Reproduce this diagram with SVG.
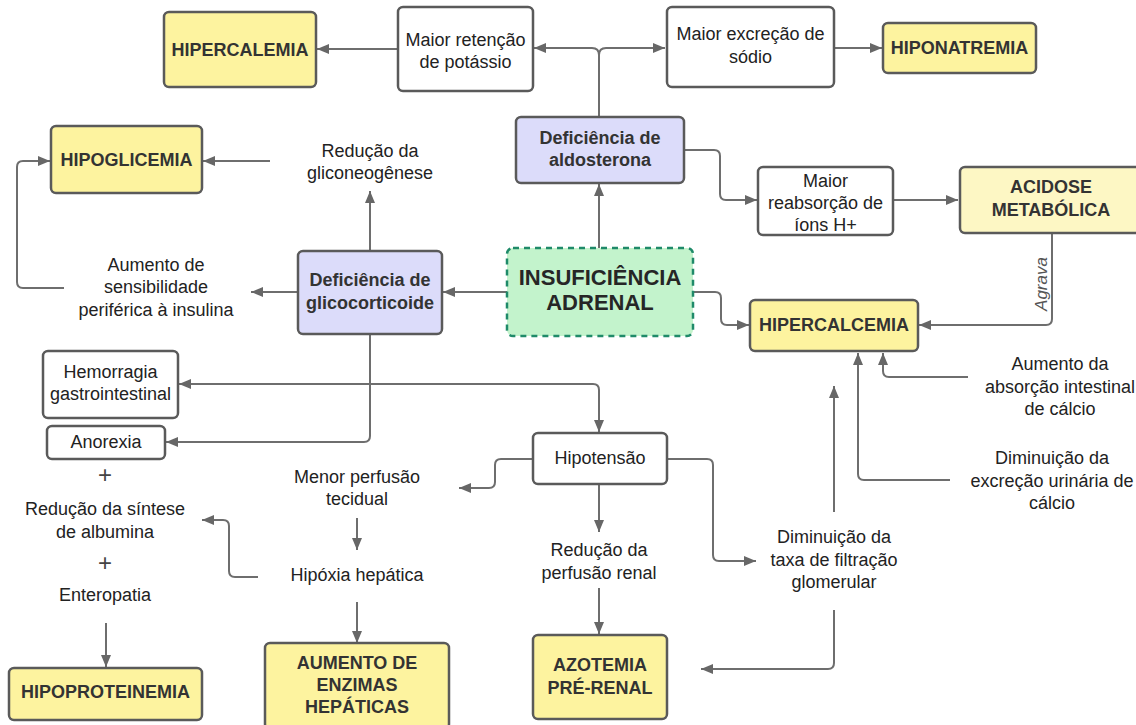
<svg xmlns="http://www.w3.org/2000/svg" width="1136" height="725" viewBox="0 0 1136 725">
<defs>
<marker id="ah" viewBox="0 0 12 10" refX="12" refY="5" markerWidth="12" markerHeight="10" markerUnits="userSpaceOnUse" orient="auto"><path d="M0,0 L12,5 L0,10 z" fill="#676767"/></marker>
<style>
.box{stroke:#5a5a5a;stroke-width:2.5}
.w{fill:#ffffff}
.y{fill:#fdf39f}
.y2{fill:#fdf7c4}
.p{fill:#dcdcfa}
.g{fill:#c3f3cc;stroke:#1f8a69;stroke-width:2.5;stroke-dasharray:6 5}
text{font-family:"Liberation Sans",Arial,Helvetica,sans-serif;font-size:18px;fill:#222222;text-anchor:middle}
.b{font-weight:bold;fill:#333333}
.big{font-size:22px;font-weight:bold;fill:#262626}
.it{font-style:italic;fill:#555555;font-size:17px}
.plus{font-size:24px;fill:#444444}
#connectors path{fill:none;stroke:#6e6e6e;stroke-width:2}
</style>
</defs>
<rect width="1136" height="725" fill="#ffffff"/>

<g id="connectors">
<path d="M599,117 V55 Q599,48 606,48 H665" marker-end="url(#ah)"/>
<path d="M599,55 Q599,48 592,48 H534" marker-end="url(#ah)"/>
<path d="M398,49 H317" marker-end="url(#ah)"/>
<path d="M834,48 H882" marker-end="url(#ah)"/>
<path d="M599,248 V184" marker-end="url(#ah)"/>
<path d="M684,150 H714 Q720,150 720,156 V194 Q720,200 726,200 H757" marker-end="url(#ah)"/>
<path d="M893,200 H958" marker-end="url(#ah)"/>
<path d="M1052,233 V319 Q1052,325 1046,325 H919" marker-end="url(#ah)"/>
<path d="M693,292 H715 Q721,292 721,298 V319 Q721,325 727,325 H749" marker-end="url(#ah)"/>
<path d="M507,292 H443" marker-end="url(#ah)"/>
<path d="M298,292 H251" marker-end="url(#ah)"/>
<path d="M64,288 H23 Q17,288 17,282 V167 Q17,161 23,161 H50" marker-end="url(#ah)"/>
<path d="M270,161 H203" marker-end="url(#ah)"/>
<path d="M370,251 V191" marker-end="url(#ah)"/>
<path d="M370,334 V436 Q370,442 364,442 H166" marker-end="url(#ah)"/>
<path d="M370,384 H179" marker-end="url(#ah)"/>
<path d="M370,384 H593 Q599,384 599,390 V432" marker-end="url(#ah)"/>
<path d="M533,459 H501 Q495,459 495,465 V482 Q495,488 489,488 H459" marker-end="url(#ah)"/>
<path d="M599,484 V532" marker-end="url(#ah)"/>
<path d="M667,459 H707 Q713,459 713,465 V555 Q713,561 719,561 H756" marker-end="url(#ah)"/>
<path d="M357,518 V550" marker-end="url(#ah)"/>
<path d="M357,602 V643" marker-end="url(#ah)"/>
<path d="M258,577 H235 Q229,577 229,571 V526 Q229,520 223,520 H202" marker-end="url(#ah)"/>
<path d="M599,588 V634" marker-end="url(#ah)"/>
<path d="M834,610 V663 Q834,669 828,669 H701" marker-end="url(#ah)"/>
<path d="M834,512 V386" marker-end="url(#ah)"/>
<path d="M950,480 H864 Q858,480 858,474 V353" marker-end="url(#ah)"/>
<path d="M968,377 H889 Q883,377 883,371 V353" marker-end="url(#ah)"/>
<path d="M106,623 V667" marker-end="url(#ah)"/>
<text class="it" transform="translate(1047,284) rotate(-90)">Agrava</text>
</g>

<g id="hipercalemia"><rect class="box y" x="164" y="12" width="152" height="75" rx="5"/><text class="b" x="240" y="56">HIPERCALEMIA</text></g>
<g id="retencao-potassio"><rect class="box w" x="398" y="7" width="135" height="84" rx="5"/><text x="465.5" y="46">Maior retenção</text><text x="465.5" y="68">de potássio</text></g>
<g id="excrecao-sodio"><rect class="box w" x="667" y="7" width="167" height="80" rx="5"/><text x="750.5" y="40">Maior excreção de</text><text x="750.5" y="63">sódio</text></g>
<g id="hiponatremia"><rect class="box y" x="883" y="23" width="153" height="50" rx="5"/><text class="b" x="959.5" y="54">HIPONATREMIA</text></g>
<g id="hipoglicemia"><rect class="box y" x="51" y="126" width="151" height="67" rx="5"/><text class="b" x="126.5" y="166">HIPOGLICEMIA</text></g>
<g id="gliconeogenese"><text x="370" y="157">Redução da</text><text x="370" y="179">gliconeogênese</text></g>
<g id="def-aldosterona"><rect class="box p" x="516" y="117" width="168" height="66" rx="5"/><text class="b" x="600" y="144">Deficiência de</text><text class="b" x="600" y="166">aldosterona</text></g>
<g id="reabsorcao-h"><rect class="box w" x="758" y="167" width="135" height="68" rx="5"/><text x="825.5" y="187">Maior</text><text x="825.5" y="209">reabsorção de</text><text x="825.5" y="231">íons H+</text></g>
<g id="acidose"><rect class="box y2" x="960" y="167" width="182" height="66" rx="5"/><text class="b" x="1051" y="193">ACIDOSE</text><text class="b" x="1051" y="216">METABÓLICA</text></g>
<g id="sensibilidade-insulina"><text x="156" y="271">Aumento de</text><text x="156" y="293">sensibilidade</text><text x="156" y="316">periférica à insulina</text></g>
<g id="def-glicocorticoide"><rect class="box p" x="298" y="251" width="144" height="83" rx="5"/><text class="b" x="370" y="286">Deficiência de</text><text class="b" x="370" y="309">glicocorticoide</text></g>
<g id="insuficiencia-adrenal"><rect class="g" x="507" y="248" width="186" height="88" rx="6"/><text class="big" x="600" y="285">INSUFICIÊNCIA</text><text class="big" x="600" y="310">ADRENAL</text></g>
<g id="hipercalcemia"><rect class="box y" x="750" y="300" width="168" height="51" rx="5"/><text class="b" x="834" y="331">HIPERCALCEMIA</text></g>
<g id="hemorragia"><rect class="box w" x="43" y="351" width="135" height="67" rx="5"/><text x="110.5" y="378">Hemorragia</text><text x="110.5" y="400">gastrointestinal</text></g>
<g id="anorexia"><rect class="box w" x="47" y="426" width="118" height="33" rx="5"/><text x="106" y="448">Anorexia</text></g>
<g id="albumina"><text class="plus" x="105" y="483">+</text><text x="105" y="515">Redução da síntese</text><text x="105" y="538">de albumina</text><text class="plus" x="105" y="571">+</text><text x="105" y="601">Enteropatia</text></g>
<g id="hipoproteinemia"><rect class="box y" x="9" y="668" width="193" height="52" rx="5"/><text class="b" x="105.5" y="698">HIPOPROTEINEMIA</text></g>
<g id="perfusao-tecidual"><text x="357" y="483">Menor perfusão</text><text x="357" y="505">tecidual</text></g>
<g id="hipoxia"><text x="357" y="581">Hipóxia hepática</text></g>
<g id="enzimas"><rect class="box y" x="265" y="643" width="184" height="86" rx="5"/><text class="b" x="357" y="669">AUMENTO DE</text><text class="b" x="357" y="691">ENZIMAS</text><text class="b" x="357" y="713">HEPÁTICAS</text></g>
<g id="hipotensao"><rect class="box w" x="533" y="433" width="134" height="51" rx="5"/><text x="600" y="464">Hipotensão</text></g>
<g id="perfusao-renal"><text x="599" y="556">Redução da</text><text x="599" y="579">perfusão renal</text></g>
<g id="azotemia"><rect class="box y" x="533" y="635" width="134" height="84" rx="5"/><text class="b" x="600" y="671">AZOTEMIA</text><text class="b" x="600" y="694">PRÉ-RENAL</text></g>
<g id="filtracao"><text x="834" y="543">Diminuição da</text><text x="834" y="566">taxa de filtração</text><text x="834" y="588">glomerular</text></g>
<g id="absorcao-calcio"><text x="1060" y="370">Aumento da</text><text x="1060" y="393">absorção intestinal</text><text x="1060" y="415">de cálcio</text></g>
<g id="excrecao-calcio"><text x="1052" y="464">Diminuição da</text><text x="1052" y="487">excreção urinária de</text><text x="1052" y="509">cálcio</text></g>
</svg>
